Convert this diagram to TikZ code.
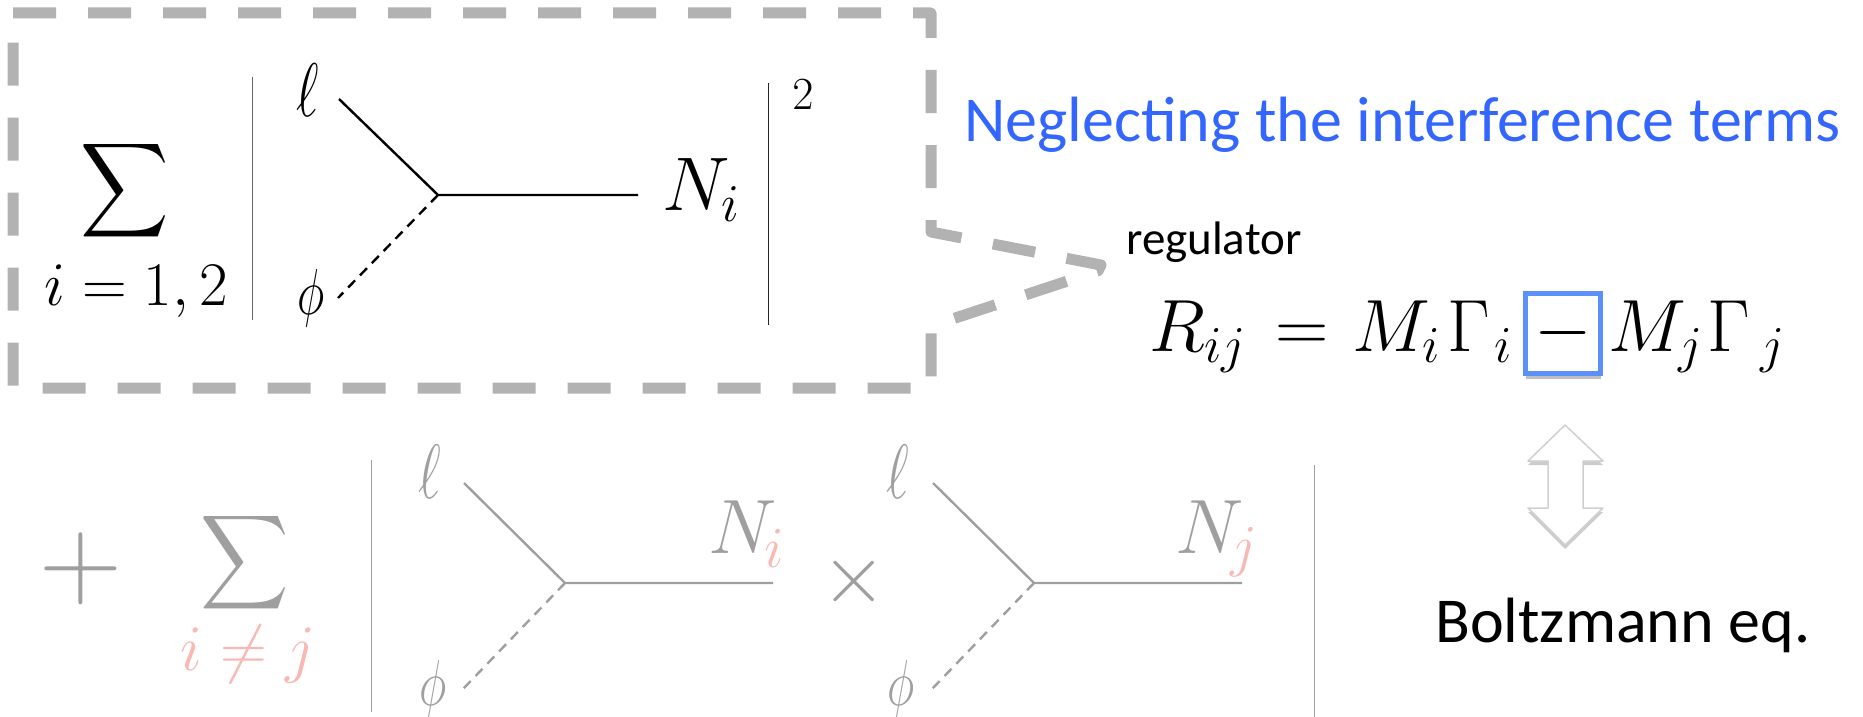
\RequirePackage{fix-cm}
\documentclass[tikz,border=0pt]{standalone}
\usepackage[no-math]{fontspec}
\usepackage{amsmath, amssymb}
\usetikzlibrary{shadows}
\newfontfamily\slidefont[Ligatures=Common]{Carlito}
\definecolor{calloutgray}{HTML}{B2B2B2}
\definecolor{fadegray}{HTML}{9F9F9F}
\definecolor{fadepink}{HTML}{F8B8B4}
\definecolor{titleblue}{HTML}{3366FF}
\definecolor{boxblue}{HTML}{5B8FF9}
\definecolor{arrowgray}{HTML}{CFCFCF}
\newcommand{\slim}[1]{\scalebox{.72}[1]{$#1$}}

\begin{document}
\begin{tikzpicture}[x=1pt,y=-1pt,
  mth/.style={inner sep=0pt,font=\fontsize{#1}{#1}\selectfont},
  txt/.style={inner sep=0pt,font=\slidefont\fontsize{#1}{#1}\selectfont},
  leg/.style={line width=2.4pt},
  bar/.style={line width=1pt}]
  \useasboundingbox (0,0) rectangle (1863,717);
  % callout
  \draw[calloutgray,line width=11pt,dash pattern=on 43pt off 32pt,line join=round]
    (13,13) -- (931,13) -- (931,232) -- (1101,265) -- (1098,271) -- (931,326) -- (931,388) -- (13,388) -- cycle;
  % upper diagram
  \node[mth=66] (sumup) at (125,191) {\scalebox{.93}[1]{$\displaystyle\sum$}};
  \node[mth=62] (idxup) at (136,291) {$i=1,2$};
  \coordinate (barA1) at (252,77);  \coordinate (barA2) at (252,320);
  \coordinate (barB1) at (768,83);  \coordinate (barB2) at (768,325);
  \draw[bar,black!60] (barA1) -- (barA2);
  \draw[bar,black!85] (barB1) -- (barB2);
  \node[mth=76] (ellup) at (308,90) {\slim{\ell}};
  \node[mth=65] (phiup) at (311,298) {\slim{\phi}};
  \node[mth=76] (nup) at (701,190) {$N_i$};
  \node[mth=46] (sq) at (803,95) {$2$};
  \coordinate (vup) at (438,195);
  \coordinate (lup) at (339,99);
  \coordinate (pup) at (338,298);
  \coordinate (eup) at (638,195);
  \draw[leg] (lup) -- (vup) -- (eup);
  \draw[leg,dash pattern=on 10pt off 7pt] (vup) -- (pup);
  % lower row
  \node[mth=115,fadegray] (plus) at (81,569) {$+$};
  \node[mth=66,fadegray] (sumlo) at (245,563) {\scalebox{.93}[1]{$\displaystyle\sum$}};
  \node[mth=65,fadepink] (idxlo) at (248,654) {$i\neq j$};
  \node[mth=84,fadegray] (times) at (854,581) {$\times$};
  \coordinate (barC1) at (371.5,460); \coordinate (barC2) at (371.5,712);
  \coordinate (barD1) at (1314,465);  \coordinate (barD2) at (1314,717);
  \draw[bar,fadegray] (barC1) -- (barC2);
  \draw[bar,fadegray] (barD1) -- (barD2);
  \foreach \sh/\vx/\ex/\ax [count=\i] in {0/565/773/743,468/1034/1242/1210} {
    \node[mth=77,fadegray] (elllo\i) at (430+\sh,472) {\slim{\ell}};
    \node[mth=65,fadegray] (philo\i) at (433+\sh,689) {\slim{\phi}};
    \node[mth=77,fadegray,anchor=base] (nlo\i) at (\ax,553) {$N$};
    \coordinate (vlo\i) at (\vx,583);
    \coordinate (llo\i) at (\vx-101,483);
    \coordinate (plo\i) at (\vx-102,689);
    \coordinate (elo\i) at (\ex,583);
    \draw[leg,fadegray] (llo\i) -- (vlo\i) -- (elo\i);
    \draw[leg,fadegray,dash pattern=on 10pt off 7pt] (vlo\i) -- (plo\i);
  }
  \node[mth=58,fadepink,anchor=base west] (sub1) at (764,567) {$i$};
  \node[mth=58,fadepink,anchor=base west] (sub2) at (1230,565) {$j$};
  % title and equation
  \node[txt=64,titleblue,anchor=base west] (title) at (964,141) {Neglecting the interference terms};
  \node[txt=47,anchor=base west] (reg) at (1126,254) {regulator};
  \node[mth=74,anchor=base west] (lhs) at (1149,351) {$R_{ij}\kern9pt=\kern3pt M_i\kern7pt\Gamma_{\kern5pt i}$};
  \node[mth=74,draw=boxblue,line width=5pt,fill=white,minimum width=75pt,minimum height=80pt,
    copy shadow={draw=none,fill=black,opacity=.25,shadow xshift=0pt,shadow yshift=-6pt}] (minusbox) at (1563,333) {$-$};
  \node[mth=74,anchor=base west] (rhs) at (1608,351) {$M_j\kern5pt\Gamma_{\kern10pt j}$};
  % arrow and equation name
  \coordinate (at) at (1565,425);
  \coordinate (ab) at (1565,545);
  \draw[arrowgray,line width=1.5pt,fill=white,line join=round,
    copy shadow={draw=none,fill=black,opacity=.2,shadow xshift=0pt,shadow yshift=-4pt}]
    (at) -- (1603,461) -- (1583,461) -- (1583,508) -- (1603,508) -- (ab)
    -- (1528,508) -- (1548,508) -- (1548,461) -- (1528,461) -- cycle;
  \node[txt=64,anchor=base west] (boltz) at (1435,642) {Boltzmann eq.};
\end{tikzpicture}
\end{document}
